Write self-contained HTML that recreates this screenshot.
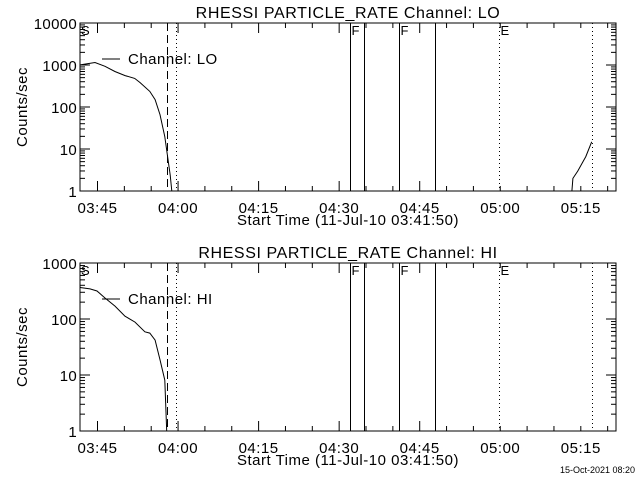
<!DOCTYPE html>
<html><head><meta charset="utf-8"><style>
html,body{margin:0;padding:0;background:#fff;}
svg{display:block;font-family:"Liberation Sans",sans-serif;}
</style></head><body>
<svg id="chart" width="640" height="480" viewBox="0 0 640 480"></svg>
<script>
// x-axis: minutes after 03:41:50
const xTickLabels = ["03:45","04:00","04:15","04:30","04:45","05:00","05:15"];
const xTickMinutes = [3.1667,18.1667,33.1667,48.1667,63.1667,78.1667,93.1667];
const markerMinutes = [16.1,17.8,50.2,52.8,59.3,66.0,78.0,95.2];
const markerStyles = ["dashed","dotted","solid","solid","solid","solid","dotted","dotted"];
const markerLetters = ["", "", "F", "", "F", "", "E", ""];
// LO channel
const loTimes1 = [0,0.1,2.7,4.56,6.4,8.3,10.1,11.1,12.9,13.9,14.8,15.7,16.7,17.0];
const loValues1 = [1000,1015,1150,930,700,560,480,380,235,150,66,19.6,2.4,1];
const loTimes2 = [91.5,91.7,92.6,93.4,94.1,95.2];
const loValues2 = [1,2.0,3.0,4.6,6.6,14.8];
// HI channel
const hiTimes = [0,0.1,1.77,3.07,4.56,6.42,8.29,10.15,12.0,12.9,13.9,14.8,15.7,15.9,16.05];
const hiValues = [370,363,345,316,237,170,112,88,59,56,42,18.7,8.1,2.4,1];
const loYTicks = ["1","10","100","1000","10000"];
const hiYTicks = ["1","10","100","1000"];

const NS="http://www.w3.org/2000/svg";
const svg=document.getElementById('chart');
const X0=80.5,X1=616,TMAX=(616-80.5)/5.37;
function xs(t){return X0+(X1-X0)*t/TMAX;}
function mk(tag,attrs,parent){const e=document.createElementNS(NS,tag);for(const k in attrs)e.setAttribute(k,attrs[k]);(parent||svg).appendChild(e);return e;}
function txt(s,x,y,size,anchor,parent,ls){const e=mk('text',{x:x,y:y,'font-size':size,'text-anchor':anchor||'start',fill:'#000'},parent);if(ls)e.setAttribute('letter-spacing',ls);e.textContent=s;return e;}

function panel(name,top,bot,yTicks,series,title,legend){
  const g=mk('g',{});
  
  
  const nd=yTicks.length-1;
  const ys=v=>bot-(bot-top)*Math.log10(Math.max(v,1))/nd;
  const t=txt(title,348,top-5,16,'middle',g,'0.6');
  
  
  const fr=mk('rect',{x:80,y:top,width:536,height:bot-top,fill:'none',stroke:'#000','stroke-width':1},g);
  
  
  for(let m=3.1667-15;m<TMAX;m+=5){ if(m<0)continue;
    const x=xs(m);const major=Math.abs(((m-3.1667)%15+15)%15)<0.01;const L=major?10:5;
    mk('line',{x1:x,y1:bot,x2:x,y2:bot-L,stroke:'#000'},g);
    mk('line',{x1:x,y1:top,x2:x,y2:top+L,stroke:'#000'},g);}
  xTickLabels.forEach((s,i)=>{const e=txt(s,xs(xTickMinutes[i]),bot+22,15,'middle',g,'0.5');
    
    });
  const xt=txt('Start Time (11-Jul-10 03:41:50)',348,bot+34,15,'middle',g,'0.5');
  
  
  for(let d=0;d<nd;d++)for(let k=1;k<10;k++){const y=ys(k*Math.pow(10,d));const L=k==1?10:5;
    mk('line',{x1:80,y1:y,x2:80+L,y2:y,stroke:'#000'},g);mk('line',{x1:616,y1:y,x2:616-L,y2:y,stroke:'#000'},g);}
  mk('line',{x1:80,y1:top,x2:90,y2:top,stroke:'#000'},g);
  yTicks.forEach((s,i)=>{const e=txt(s,77,bot-(bot-top)*i/nd+6,15,'end',g,'0.3');
    
    });
  const yt=txt('Counts/sec',0,0,15,'middle',g,'0.5');
  yt.setAttribute('transform','translate(27,'+((top+bot)/2)+') rotate(-90)');
  
  
  markerMinutes.forEach((m,i)=>{const x=Math.round(xs(m))+0.5;const st=markerStyles[i];
    const l=mk('line',{x1:x,y1:top,x2:x,y2:bot,stroke:'#000','stroke-width':1},g);
    if(st=='dashed')l.setAttribute('stroke-dasharray','8,4');
    if(st=='dotted')l.setAttribute('stroke-dasharray','1,3');
    
    
    if(markerLetters[i]){txt(markerLetters[i],x+1,top+12,13,'start',g);}});
  txt('S',81,top+12,13,'start',g);
  series.forEach(([ts,vs])=>{const pts=ts.map((t,i)=>xs(t).toFixed(1)+','+ys(vs[i]).toFixed(1)).join(' ');
    const p=mk('polyline',{points:pts,fill:'none',stroke:'#000','stroke-width':1},g);
    
    });
  const ly=top+36;
  mk('line',{x1:102,y1:ly,x2:120,y2:ly,stroke:'#000'},g);
  const lt=txt(legend,128,ly+5,15,'start',g,'0.5');
  
  
}
panel('lo',23,191,loYTicks,[[loTimes1,loValues1],[loTimes2,loValues2]],'RHESSI PARTICLE_RATE Channel: LO','Channel: LO');
panel('hi',263,431,hiYTicks,[[hiTimes,hiValues]],'RHESSI PARTICLE_RATE Channel: HI','Channel: HI');
const ft=txt('15-Oct-2021 08:20',635,473,9,'end');


</script>
</body></html>
